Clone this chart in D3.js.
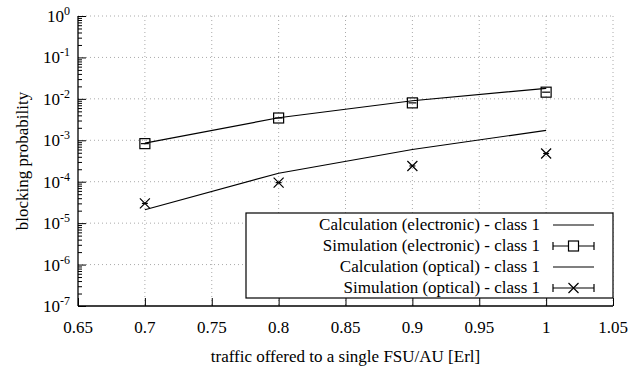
<!DOCTYPE html>
<html>
<head>
<meta charset="utf-8">
<script src="https://cdn.jsdelivr.net/npm/d3@7"></script>
<style>
  body { margin: 0; background: #fff; }
  svg text { font-family: "Liberation Serif", "Times New Roman", serif; fill: #000; }
</style>
</head>
<body>
<svg id="chart" width="644" height="373"></svg>
<script>
// data
const loads = [0.7, 0.8, 0.9, 1.0];
const calcElectronic = [8.5e-4, 3.5e-3, 9.0e-3, 1.8e-2];
const simElectronic = [8.3e-4, 3.45e-3, 8.0e-3, 1.45e-2];
const calcOptical = [2.1e-5, 1.6e-4, 6.0e-4, 1.74e-3];
const simOptical = [3.0e-5, 9.5e-5, 2.4e-4, 4.8e-4];

const xTicks = [0.65, 0.7, 0.75, 0.8, 0.85, 0.9, 0.95, 1, 1.05];
const yExponents = [0, -1, -2, -3, -4, -5, -6, -7];

const legendLabels = [
  'Calculation (electronic) - class 1',
  'Simulation (electronic) - class 1',
  'Calculation (optical) - class 1',
  'Simulation (optical) - class 1'
];

const margin = { top: 16, right: 31, bottom: 67, left: 78 };
const width = 644 - margin.left - margin.right;
const height = 373 - margin.top - margin.bottom;
const fs = 17;

const svg = d3.select('#chart');
const chart = svg.append('g')
  .attr('transform', `translate(${margin.left},${margin.top})`);

const xScale = d3.scaleLinear().domain([0.65, 1.05]).range([0, width]);
const yScale = d3.scaleLog().domain([1e-7, 1]).range([height, 0]);

// grid
const grid = chart.append('g').attr('stroke', '#aaa').attr('stroke-width', 1)
  .attr('stroke-dasharray', '1,3');
grid.selectAll('.gx').data(xTicks.slice(1)).join('line')
  .attr('x1', d => xScale(d)).attr('x2', d => xScale(d))
  .attr('y1', 0).attr('y2', height);
grid.selectAll('.gy').data(yExponents.slice(0, -1)).join('line')
  .attr('x1', 0).attr('x2', width)
  .attr('y1', d => yScale(Math.pow(10, d))).attr('y2', d => yScale(Math.pow(10, d)));

// x axis (ticks inside)
const xAxis = d3.axisTop(xScale).tickValues(xTicks).tickSize(8).tickFormat('');
const xg = chart.append('g').attr('transform', `translate(0,${height})`).call(xAxis);
xg.select('.domain').remove();
xg.selectAll('.tick line').attr('stroke', '#000');
chart.append('line').attr('x1', 0).attr('x2', width).attr('y1', height).attr('y2', height)
  .attr('stroke', '#000').attr('stroke-width', 1.3);
chart.selectAll('.xlab').data(xTicks).join('text')
  .attr('x', d => xScale(d)).attr('y', height + 27)
  .attr('text-anchor', 'middle').attr('font-size', fs)
  .text(d => d);

// y axis (major + minor ticks inside)
const minor = [];
yExponents.slice(1).forEach(e => {
  for (let k = 2; k <= 9; k++) minor.push(k * Math.pow(10, e));
});
const yMinor = d3.axisRight(yScale).tickValues(minor).tickSize(4).tickFormat('');
const ymg = chart.append('g').call(yMinor);
ymg.select('.domain').remove();
const yAxis = d3.axisRight(yScale).tickValues(yExponents.map(e => Math.pow(10, e)))
  .tickSize(8).tickFormat('');
const yg = chart.append('g').call(yAxis);
yg.select('.domain').remove();
chart.append('line').attr('x1', 0).attr('x2', 0).attr('y1', 0).attr('y2', height)
  .attr('stroke', '#000').attr('stroke-width', 1.3);

const yLab = chart.selectAll('.ylab').data(yExponents).join('text')
  .attr('x', -8).attr('y', d => yScale(Math.pow(10, d)) + 6)
  .attr('text-anchor', 'end').attr('font-size', fs);
yLab.append('tspan').text('10');
yLab.append('tspan').attr('dy', -7).attr('font-size', 12).text(d => d);

// axis titles
svg.append('text')
  .attr('x', margin.left + width / 2).attr('y', 362)
  .attr('text-anchor', 'middle').attr('font-size', fs)
  .text('traffic offered to a single FSU/AU [Erl]');
svg.append('text')
  .attr('transform', `translate(28,${margin.top + height / 2}) rotate(-90)`)
  .attr('text-anchor', 'middle').attr('font-size', fs)
  .text('blocking probability');

// series
const line = d3.line().x(d => xScale(d[0])).y(d => yScale(d[1]));
[calcElectronic, calcOptical].forEach(vals => {
  chart.append('path')
    .datum(loads.map((x, i) => [x, vals[i]]))
    .attr('d', line).attr('fill', 'none').attr('stroke', '#000').attr('stroke-width', 1.2);
});

const sq = 10, cr = 5;
function drawSquare(g, x, y) {
  g.append('rect').attr('x', x - sq / 2).attr('y', y - sq / 2)
    .attr('width', sq).attr('height', sq)
    .attr('fill', 'none').attr('stroke', '#000').attr('stroke-width', 1.2);
}
function drawCross(g, x, y) {
  g.append('path')
    .attr('d', `M${x - cr},${y - cr}L${x + cr},${y + cr}M${x - cr},${y + cr}L${x + cr},${y - cr}`)
    .attr('stroke', '#000').attr('stroke-width', 1.2);
}
function drawBar(g, x, y, half) {
  g.append('line').attr('x1', x - half).attr('x2', x + half).attr('y1', y).attr('y2', y)
    .attr('stroke', '#000').attr('stroke-width', 1.2);
}

const marks = chart.append('g');
loads.forEach((x, i) => {
  const px = xScale(x);
  const ye = yScale(simElectronic[i]);
  drawSquare(marks, px, ye);
  drawBar(marks, px, ye, 4);
  const yo = yScale(simOptical[i]);
  drawCross(marks, px, yo);
  drawBar(marks, px, yo, 3);
});

// legend
const lg = svg.append('g');
lg.append('rect').attr('x', 246).attr('y', 213).attr('width', 367).attr('height', 85)
  .attr('fill', '#fff').attr('stroke', '#000').attr('stroke-width', 1.2);
legendLabels.forEach((label, i) => {
  const ly = 225 + i * 21;
  lg.append('text').attr('x', 540).attr('y', ly + 5)
    .attr('text-anchor', 'end').attr('font-size', fs).text(label);
  lg.append('line').attr('x1', 553).attr('x2', 594).attr('y1', ly).attr('y2', ly)
    .attr('stroke', '#000').attr('stroke-width', 1.2);
  if (i % 2 === 1) {
    lg.append('line').attr('x1', 553).attr('x2', 553).attr('y1', ly - 4).attr('y2', ly + 4)
      .attr('stroke', '#000').attr('stroke-width', 1.2);
    lg.append('line').attr('x1', 594).attr('x2', 594).attr('y1', ly - 4).attr('y2', ly + 4)
      .attr('stroke', '#000').attr('stroke-width', 1.2);
    if (i === 1) {
      lg.append('rect').attr('x', 568.5).attr('y', ly - 5).attr('width', 10).attr('height', 10)
        .attr('fill', '#fff').attr('stroke', '#000').attr('stroke-width', 1.2);
    } else {
      drawCross(lg, 573.5, ly);
    }
  }
});
</script>
</body>
</html>
